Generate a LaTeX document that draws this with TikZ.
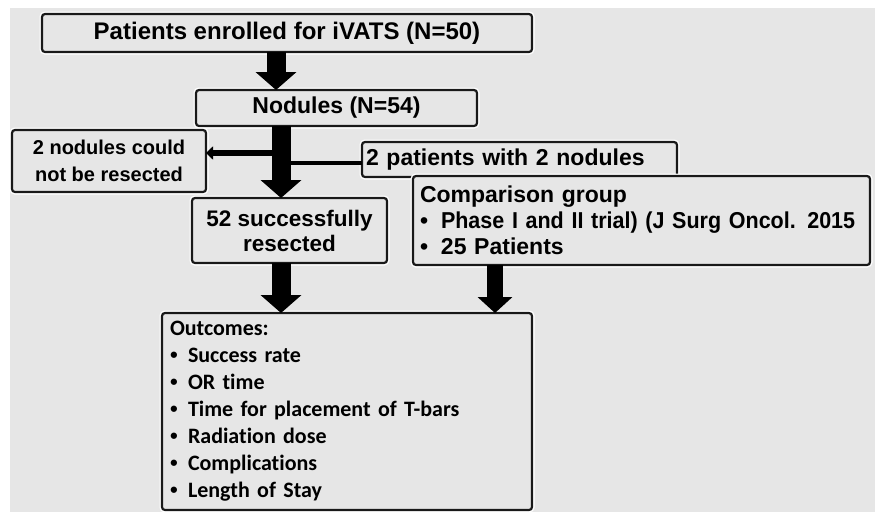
\documentclass[tikz,border=0pt]{standalone}
\usepackage{fontspec}
\setmainfont{Liberation Sans}
\newfontfamily\cfont{Carlito}[Ligatures=NoCommon]
\newfontfamily\nfont{Liberation Sans}[FakeStretch=0.935]
\usetikzlibrary{arrows.meta}
\definecolor{bg}{RGB}{230,230,230}
\definecolor{linec}{RGB}{25,25,25}
\tikzset{
  box/.style={draw=linec, line width=2.2pt, rounded corners=3pt, fill=bg,
    inner ysep=0pt, outer sep=0pt, preaction={draw=white, line width=5pt},
    font=\fontsize{23}{26}\selectfont\bfseries},
  sized/.style 2 args={minimum width=#1, minimum height=#2},
  bigarrow/.style={draw=black, line width=19pt, -{Triangle[width=40pt,length=18pt]}},
  midarrow/.style={draw=black, line width=16pt, -{Triangle[width=34pt,length=16pt]}},
  smallarrow/.style={draw=black, line width=6pt, -{Triangle[width=13pt,length=7pt]}},
  joinline/.style={draw=black, line width=4pt},
}
\newcommand{\bul}{\makebox[21pt][l]{•}}
\newcommand{\obul}{\makebox[18pt][l]{\rmfamily\fontsize{22}{27}\selectfont•}}
\begin{document}
\begin{tikzpicture}[x=1pt,y=-1pt]
\useasboundingbox (0,0) rectangle (875,512);
\fill[bg] (10,8) rectangle (875,512);
\node[box, sized={490pt}{38pt}, font=\fontsize{24}{28}\selectfont\bfseries] (B1) at (287,33) {Patients enrolled for iVATS (N=50)};
\node[box, sized={281pt}{36pt}] (B2) at (336.5,108) {Nodules (N=54)};
\node[box, sized={194pt}{62pt}, align=center, font=\fontsize{20}{27}\selectfont\bfseries] (B3) at (109,161) {2 nodules could\\not be resected};
\node[box, sized={315pt}{35pt}, inner xsep=4pt, text width=307pt, align=left] (B4) at (519.5,159.5) {2 patients with 2 nodules};
\node[box, sized={195pt}{65pt}, align=center, font=\fontsize{22.5}{25}\selectfont\bfseries] (B5) at (289.5,230.5) {52 successfully\\resected};
\node[box, sized={457pt}{89pt}, inner xsep=7pt, text width=443pt, align=left] (B6) at (641.5,220.5) {Comparison group\\\bul{\nfont Phase I and II trial) (J Surg Oncol. 2015}\\\bul 25 Patients};
\node[box, sized={370pt}{197pt}, inner xsep=8pt, text width=354pt, align=left, font=\cfont\fontsize{22}{27}\selectfont\bfseries] (B7) at (347,411.5) {Outcomes:\\\obul Success rate\\\obul OR time\\\obul Time for placement of T-bars\\\obul Radiation dose\\\obul Complications\\\obul Length of Stay};
\coordinate (x1) at (276,0);
\coordinate (x2) at (281,0);
\coordinate (x4) at (495,0);
\coordinate (l1) at (272,153);
\coordinate (c2) at (281,163);
\draw[bigarrow] (B1.south -| x1) -- (B2.north -| x1);
\draw[bigarrow] (B2.south -| x2) -- (B5.north -| x2);
\draw[smallarrow] (l1) -- (l1 -| B3.east);
\draw[joinline] (c2) -- (c2 -| B4.west);
\draw[bigarrow] (B5.south -| x2) -- (B7.north -| x2);
\draw[midarrow] (B6.south -| x4) -- (B7.north -| x4);
\end{tikzpicture}
\end{document}
